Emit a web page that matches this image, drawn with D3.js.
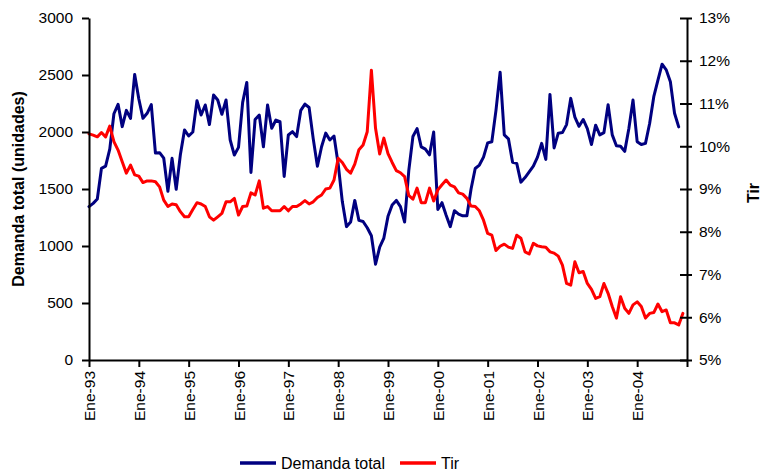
<!DOCTYPE html>
<html>
<head>
<meta charset="utf-8">
<script src="https://cdn.jsdelivr.net/npm/d3@7"></script>
<style>
  html, body { margin: 0; padding: 0; background: #fff; }
  svg { display: block; }
  text { font-family: "Liberation Sans", Arial, Helvetica, sans-serif; fill: #000; }
</style>
</head>
<body>
<svg id="chart" width="764" height="472"></svg>
<script>
// Monthly series, Ene-93 .. Dic-04
const yearLabels = ["Ene-93","Ene-94","Ene-95","Ene-96","Ene-97","Ene-98",
                    "Ene-99","Ene-00","Ene-01","Ene-02","Ene-03","Ene-04"];

// Demanda total (unidades), Ene-93 .. Nov-04
const demanda = [
  1345,1374,1412,1681,1700,1850,2160,2243,2047,2190,2120,2505,
  2290,2120,2164,2240,1815,1819,1770,1480,1769,1497,1800,2018,
  1965,2000,2275,2149,2237,2065,2325,2281,2155,2281,1930,1798,
  1865,2260,2435,1645,2110,2149,1870,2237,2032,2105,2090,1610,
  1974,2003,1960,2190,2245,2215,1940,1700,1871,1990,1930,1965,
  1720,1390,1170,1210,1400,1225,1215,1160,1090,840,990,1070,
  1260,1360,1400,1345,1210,1660,1960,2030,1870,1850,1800,2000,
  1320,1380,1270,1170,1310,1280,1265,1265,1500,1680,1710,1780,
  1905,1915,2190,2525,1975,1940,1735,1725,1560,1600,1650,1700,
  1780,1900,1760,2330,1860,1990,1995,2065,2295,2130,2050,2110,
  2030,1890,2060,1975,1995,2240,1975,1880,1875,1830,2030,2280,
  1915,1890,1900,2075,2310,2455,2595,2545,2440,2165,2045
];

// Tir (%), Ene-93 .. Dic-04
const tir = [
  10.29,10.26,10.22,10.32,10.22,10.47,10.11,9.91,9.64,9.37,9.56,9.33,
  9.30,9.15,9.19,9.19,9.17,9.05,8.74,8.59,8.65,8.63,8.47,8.35,
  8.35,8.52,8.68,8.65,8.59,8.35,8.27,8.35,8.43,8.70,8.70,8.78,
  8.39,8.59,8.60,8.91,8.86,9.19,8.55,8.59,8.49,8.49,8.49,8.59,
  8.49,8.59,8.59,8.65,8.73,8.65,8.70,8.80,8.86,9.00,9.02,9.21,
  9.72,9.62,9.46,9.37,9.58,9.92,10.03,10.34,11.78,10.42,9.82,10.19,
  9.83,9.62,9.43,9.38,9.29,8.85,8.76,9.02,8.68,8.68,9.02,8.72,
  8.98,9.10,9.21,9.09,9.05,8.91,8.88,8.78,8.60,8.59,8.49,8.27,
  7.96,7.92,7.56,7.66,7.71,7.64,7.61,7.92,7.85,7.53,7.48,7.73,
  7.67,7.65,7.64,7.53,7.50,7.43,7.22,6.79,6.75,7.30,7.04,7.07,
  6.79,6.65,6.44,6.48,6.79,6.56,6.25,5.98,6.48,6.21,6.09,6.29,
  6.36,6.25,5.98,6.09,6.11,6.31,6.13,6.17,5.87,5.87,5.82,6.09
];

const leftTicks = [0, 500, 1000, 1500, 2000, 2500, 3000];
const rightTicks = [5, 6, 7, 8, 9, 10, 11, 12, 13];

const svg = d3.select("#chart");
const plot = { left: 89, right: 687, top: 18, bottom: 360 };
const FONT = 15.5;

const x = d3.scaleLinear().domain([0, 144]).range([plot.left, plot.right]);
const yL = d3.scaleLinear().domain([0, 3000]).range([plot.bottom, plot.top]);
const yR = d3.scaleLinear().domain([5, 13]).range([plot.bottom, plot.top]);

function styleAxis(g) {
  g.select(".domain").attr("stroke", "#000").attr("stroke-width", 2);
  g.selectAll(".tick line").attr("stroke", "#000").attr("stroke-width", 2);
  g.selectAll(".tick text").attr("font-size", FONT)
    .attr("font-family", "'Liberation Sans', Arial, sans-serif").attr("fill", "#000");
}

// Lines
const lineL = d3.line().x((d, i) => x(i)).y(d => yL(d));
const lineR = d3.line().x((d, i) => x(i)).y(d => yR(d));

svg.append("path").datum(demanda)
  .attr("d", lineL).attr("fill", "none")
  .attr("stroke", "#000080").attr("stroke-width", 3)
  .attr("stroke-linejoin", "round").attr("stroke-linecap", "round");

svg.append("path").datum(tir)
  .attr("d", lineR).attr("fill", "none")
  .attr("stroke", "#ff0000").attr("stroke-width", 3)
  .attr("stroke-linejoin", "round").attr("stroke-linecap", "round");

// Left axis
svg.append("g")
  .attr("transform", `translate(${plot.left},0)`)
  .call(d3.axisLeft(yL).tickValues(leftTicks).tickSize(7).tickPadding(9).tickSizeOuter(0)
        .tickFormat(d3.format("d")))
  .call(styleAxis);

// Right axis (ticks cross the line)
const gR = svg.append("g")
  .attr("transform", `translate(${plot.right},0)`)
  .call(d3.axisRight(yR).tickValues(rightTicks).tickSize(5).tickPadding(7).tickSizeOuter(0)
        .tickFormat(d => d + "%"))
  .call(styleAxis);
gR.selectAll(".tick line").attr("x1", -7);

// Bottom axis
const xTicks = d3.range(0, 145, 12);
const gB = svg.append("g")
  .attr("transform", `translate(0,${plot.bottom})`)
  .call(d3.axisBottom(x).tickValues(xTicks).tickSize(7).tickSizeOuter(0)
        .tickFormat(d => yearLabels[d / 12] || ""))
  .call(styleAxis);
gB.selectAll(".tick text")
  .attr("text-anchor", "end")
  .attr("transform", "rotate(-90)")
  .attr("x", -11).attr("y", 0).attr("dy", "0.36em");

// Axis titles
svg.append("text")
  .attr("transform", "translate(24,189) rotate(-90)")
  .attr("text-anchor", "middle")
  .attr("font-size", 16).attr("font-weight", "bold")
  .text("Demanda total (unidades)");

svg.append("text")
  .attr("transform", "translate(759,193) rotate(-90)")
  .attr("text-anchor", "middle")
  .attr("font-size", 16).attr("font-weight", "bold")
  .text("Tir");

// Legend
const legend = svg.append("g");
const items = [
  { name: "Demanda total", color: "#000080", x0: 240 },
  { name: "Tir", color: "#ff0000", x0: 400 }
];
items.forEach(it => {
  legend.append("line")
    .attr("x1", it.x0).attr("x2", it.x0 + 36)
    .attr("y1", 463).attr("y2", 463)
    .attr("stroke", it.color).attr("stroke-width", 3.5);
  legend.append("text")
    .attr("x", it.x0 + 41).attr("y", 469)
    .attr("font-size", 16)
    .text(it.name);
});
</script>
</body>
</html>
